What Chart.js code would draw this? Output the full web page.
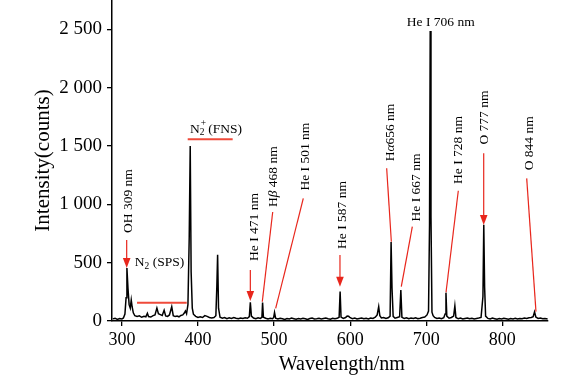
<!DOCTYPE html>
<html>
<head>
<meta charset="utf-8">
<script src="https://cdn.jsdelivr.net/npm/chart.js@4.4.1/dist/chart.umd.min.js"></script>
<style>
  html, body { margin: 0; padding: 0; background: #fff; }
  #wrap { width: 564px; height: 382px; position: relative; }
</style>
</head>
<body>
<div id="wrap"><canvas id="spectrumChart"></canvas></div>
<script>
// spectrum (wavelength in nm, intensity in counts)
var wavelength = [
  288, 291, 294, 297, 300, 302, 304, 305.5, 306.6, 308,
  309.5, 311, 312.3, 313.5, 315, 317, 320, 323, 326, 329,
  331.5, 333.5, 335, 338, 341, 343.5, 346, 348, 350.5, 353,
  355.5, 357.5, 360, 362.5, 365.5, 367.5, 370, 372.5, 375, 377.5,
  380, 382, 383.5, 385, 386.8, 388.5, 389.8, 391, 392.5, 394,
  397, 400, 403, 406, 409, 412, 415, 418, 421, 423.5,
  424.8, 425.8, 427, 429, 432, 435, 438, 441, 444, 447,
  450, 453, 456, 459, 462, 465, 467.5, 468.8, 470.2, 473,
  476, 479, 482, 484, 484.9, 486, 489, 492, 495, 498,
  499.5, 500.6, 502, 505, 508, 511, 514, 517, 520, 523,
  526, 529, 532, 535, 538, 541, 544, 547, 550, 553,
  556, 559, 562, 565, 568, 571, 574, 577, 580, 583,
  585.5, 586.8, 588, 591, 594, 596, 598, 600, 603, 606,
  609, 612, 615, 618, 621, 624, 627, 630, 633, 635.5,
  637.5, 639, 641, 644, 647, 650, 652.5, 653.8, 655, 656.5,
  659, 662, 665, 666.6, 668, 671, 674, 677, 680, 683,
  686, 689, 692, 695, 698, 701, 703, 704.3, 705.2, 706.2,
  707.5, 709, 711, 714, 717, 720, 723, 724.8, 725.9, 727,
  730, 733, 736, 737.6, 739, 742, 745, 748, 751, 754,
  757, 760, 763, 766, 769, 772, 774.5, 775.6, 776.7, 778,
  781, 784, 787, 790, 793, 796, 799, 802, 805, 808,
  811, 814, 817, 820, 823, 826, 829, 832, 835, 838,
  840.5, 842.3, 844, 847, 850, 853, 856, 859.5
]
var intensity = [
  18, 24, 14, 22, 17, 26, 60, 200, 453, 280,
  140, 110, 180, 120, 70, 45, 38, 44, 32, 40,
  36, 66, 38, 34, 46, 52, 110, 62, 55, 48,
  92, 44, 40, 52, 122, 46, 38, 42, 36, 48,
  52, 68, 86, 62, 140, 720, 1500, 420, 110, 58,
  40, 30, 36, 30, 46, 40, 30, 26, 30, 45,
  300, 567, 110, 32, 24, 30, 20, 28, 22, 30,
  24, 19, 26, 22, 28, 24, 38, 160, 42, 25,
  19, 28, 22, 32, 158, 32, 24, 17, 24, 20,
  30, 72, 24, 17, 24, 19, 14, 22, 18, 25,
  20, 15, 22, 18, 24, 20, 14, 22, 26, 18,
  20, 24, 17, 22, 26, 20, 16, 24, 20, 23,
  32, 252, 34, 22, 30, 42, 40, 28, 20, 25,
  17, 22, 26, 19, 24, 17, 26, 22, 32, 52,
  123, 45, 26, 30, 21, 28, 42, 676, 280, 40,
  24, 30, 36, 266, 32, 21, 28, 19, 25, 22,
  28, 19, 24, 30, 34, 52, 85, 820, 2485, 900,
  75, 46, 30, 21, 25, 19, 28, 60, 243, 42,
  24, 30, 42, 129, 30, 19, 25, 17, 22, 26,
  19, 24, 17, 22, 25, 30, 210, 825, 290, 42,
  22, 17, 25, 20, 15, 22, 17, 24, 20, 15,
  22, 18, 24, 17, 22, 19, 25, 22, 28, 30,
  36, 78, 34, 22, 25, 19, 22, 18
]

var xTicks = [300, 400, 500, 600, 700, 800]
var yTicks = [0, 500, 1000, 1500, 2000, 2500]

// line labels, placed in data units (wavelength, counts)
var notes = [
  { parts: [['OH 309 nm']], at: [308.0, 1028], rot: true, from: [306.3, 694], to: [306.3, 454], arrow: true },
  { parts: [['N'], ['2', 'sub'], [' (SPS)']], at: [349.4, 505], rot: false, from: [319.9, 157], to: [385.2, 157], bar: true },
  { parts: [['N'], ['2', '+', 'stack'], [' (FNS)']], at: [423.7, 1645], rot: false, from: [386.5, 1557], to: [445.6, 1557], bar: true },
  { parts: [['He I 471 nm']], at: [473.6, 805], rot: true, from: [468.8, 437], to: [468.8, 171], arrow: true },
  { parts: [['H'], ['\u03b2', 'it'], [' 468 nm']], at: [498.6, 1236], rot: true, from: [498.2, 934], to: [484.5, 165] },
  { parts: [['He I 501 nm']], at: [540.6, 1408], rot: true, from: [538.4, 1051], to: [502.1, 109] },
  { parts: [['He I 587 nm']], at: [589.9, 908], rot: true, from: [586.6, 565], to: [586.6, 294], arrow: true },
  { parts: [['H'], ['\u03b1', 'it'], ['656 nm']], at: [652.4, 1615], rot: true, from: [648.0, 1308], to: [654.1, 679] },
  { parts: [['He I 667 nm']], at: [686.5, 1144], rot: true, from: [681.7, 808], to: [667.2, 294] },
  { parts: [['He I 706 nm']], at: [719.1, 2557], rot: false },
  { parts: [['He I 728 nm']], at: [742.1, 1465], rot: true, from: [742.1, 1116], to: [726.0, 246] },
  { parts: [['O 777 nm']], at: [776.8, 1743], rot: true, from: [775.5, 1437], to: [775.5, 822], arrow: true },
  { parts: [['O 844 nm']], at: [835.0, 1522], rot: true, from: [832.0, 1222], to: [844.2, 80] }
]

var serif = '"Liberation Serif", "Times New Roman", serif'
var noteSize = 13.5
var red = '#e8261c'

function partFont(style, small) {
  var size = small ? noteSize * 0.7 : noteSize
  return (style === 'it' ? 'italic ' : '') + size + 'px ' + serif
}

function richWidth(ctx, parts) {
  var w = 0
  parts.forEach(function (p) {
    if (p[2] === 'stack') {
      ctx.font = partFont('', true)
      w += Math.max(ctx.measureText(p[0]).width, ctx.measureText(p[1]).width)
    } else {
      ctx.font = partFont(p[1], p[1] === 'sub')
      w += ctx.measureText(p[0]).width
    }
  })
  return w
}

function drawRich(ctx, parts) {
  var x = -richWidth(ctx, parts) / 2
  ctx.textAlign = 'left'
  ctx.textBaseline = 'middle'
  parts.forEach(function (p) {
    if (p[2] === 'stack') {
      ctx.font = partFont('', true)
      ctx.fillText(p[0], x, 4)
      ctx.fillText(p[1], x + 1, -5)
      x += Math.max(ctx.measureText(p[0]).width, ctx.measureText(p[1]).width)
    } else if (p[1] === 'sub') {
      ctx.font = partFont('', true)
      ctx.fillText(p[0], x, 4)
      x += ctx.measureText(p[0]).width
    } else {
      ctx.font = partFont(p[1], false)
      ctx.fillText(p[0], x, 0)
      x += ctx.measureText(p[0]).width
    }
  })
}

var notePlugin = {
  id: 'lineNotes',
  afterDatasetsDraw: function (chart) {
    var ctx = chart.ctx
    var xs = chart.scales.x, ys = chart.scales.y

    // x axis title, sitting a little right of centre as in the original
    ctx.save()
    ctx.fillStyle = '#000'
    ctx.font = '20px ' + serif
    ctx.textAlign = 'center'
    ctx.textBaseline = 'middle'
    ctx.fillText('Wavelength/nm', xs.getPixelForValue(589), xs.bottom - 17)
    ctx.restore()

    notes.forEach(function (n) {
      ctx.save()
      ctx.fillStyle = '#000'
      ctx.translate(xs.getPixelForValue(n.at[0]), ys.getPixelForValue(n.at[1]))
      if (n.rot) ctx.rotate(-Math.PI / 2)
      drawRich(ctx, n.parts)
      ctx.restore()

      if (!n.from) return
      var x1 = xs.getPixelForValue(n.from[0]), y1 = ys.getPixelForValue(n.from[1])
      var x2 = xs.getPixelForValue(n.to[0]), y2 = ys.getPixelForValue(n.to[1])
      ctx.save()
      ctx.strokeStyle = n.bar ? '#ef4a3a' : red
      ctx.fillStyle = red
      ctx.lineWidth = n.bar ? 2 : 1.2
      var ang = Math.atan2(y2 - y1, x2 - x1)
      var ex = x2, ey = y2
      if (n.arrow) { ex = x2 - 8 * Math.cos(ang); ey = y2 - 8 * Math.sin(ang) }
      ctx.beginPath()
      ctx.moveTo(x1, y1)
      ctx.lineTo(ex, ey)
      ctx.stroke()
      if (n.arrow) {
        ctx.beginPath()
        ctx.moveTo(x2, y2)
        ctx.lineTo(x2 - 10 * Math.cos(ang) + 3.8 * Math.sin(ang), y2 - 10 * Math.sin(ang) - 3.8 * Math.cos(ang))
        ctx.lineTo(x2 - 10 * Math.cos(ang) - 3.8 * Math.sin(ang), y2 - 10 * Math.sin(ang) + 3.8 * Math.cos(ang))
        ctx.closePath()
        ctx.fill()
      }
      ctx.restore()
    })
  }
}

function thousands(v) {
  if (v < 1000) return String(v)
  return Math.floor(v / 1000) + ' ' + String(v % 1000).padStart(3, '0')
}

var points = wavelength.map(function (w, i) { return { x: w, y: intensity[i] } })

var ctx = document.getElementById('spectrumChart').getContext('2d')
new Chart(ctx, {
  type: 'scatter',
  data: {
    datasets: [{
      data: points,
      showLine: true,
      borderColor: '#000',
      borderWidth: 1.5,
      pointRadius: 0,
      tension: 0
    }]
  },
  options: {
    responsive: true,
    maintainAspectRatio: false,
    animation: false,
    layout: { padding: { left: 0, right: 16, top: 0, bottom: 0 } },
    plugins: { legend: { display: false }, tooltip: { enabled: false } },
    scales: {
      x: {
        type: 'linear',
        min: 287,
        max: 860,
        afterBuildTicks: function (s) { s.ticks = xTicks.map(function (v) { return { value: v } }) },
        afterFit: function (s) { s.height = 61; s.paddingLeft = 0; s.paddingRight = 0 },
        ticks: { color: '#000', font: { family: serif, size: 18 }, padding: 3, maxRotation: 0 },
        grid: { drawOnChartArea: false, drawTicks: true, tickLength: 5, color: '#000', lineWidth: 1.3 },
        border: { color: '#000', width: 1.5 },
        title: { display: false }
      },
      y: {
        min: 0,
        max: 2750,
        afterBuildTicks: function (s) { s.ticks = yTicks.map(function (v) { return { value: v } }) },
        afterFit: function (s) { s.width = 112; s.paddingTop = 0; s.paddingBottom = 0 },
        ticks: { color: '#000', font: { family: serif, size: 19 }, padding: 5, callback: thousands },
        grid: { drawOnChartArea: false, drawTicks: true, tickLength: 5, color: '#000', lineWidth: 1.3 },
        border: { color: '#000', width: 1.5 },
        title: { display: true, text: 'Intensity(counts)', color: '#000', font: { family: serif, size: 21 }, padding: { top: 31, bottom: 0 } }
      }
    }
  },
  plugins: [notePlugin]
})
</script>
</body>
</html>
